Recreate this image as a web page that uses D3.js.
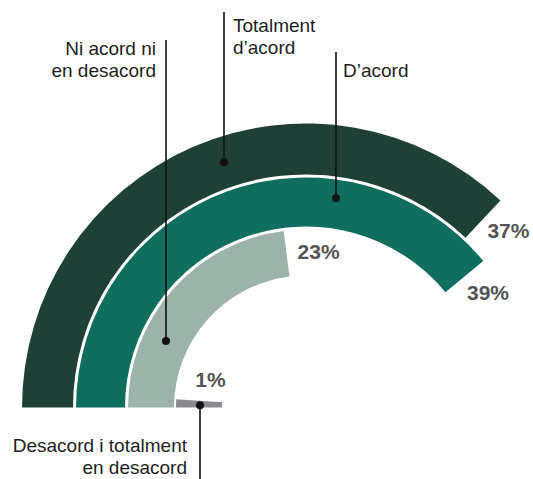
<!DOCTYPE html>
<html>
<head>
<meta charset="utf-8">
<script src="https://cdn.jsdelivr.net/npm/d3@7"></script>
<style>
  html, body { margin: 0; padding: 0; background: #fff; }
  svg { display: block; }
  text { font-family: "Liberation Sans", Arial, Helvetica, sans-serif; }
</style>
</head>
<body>
<div id="chart"></div>
<script>
// ---- data ----
const categories = ["Totalment d’acord", "D’acord", "Ni acord ni en desacord", "Desacord i totalment en desacord"];
const values = [37, 39, 23, 1];
const valueLabels = ["37%", "39%", "23%", "1%"];
const labelLines = [["Totalment", "d’acord"], ["D’acord"], ["Ni acord ni", "en desacord"], ["Desacord i totalment", "en desacord"]];
const colors = ["#1e4036", "#0f6e5e", "#9cb3aa", "#8a8a90"];

// ---- layout ----
const W = 533, H = 479;
const cx = 306, cy = 407.5;
const rings = [[233, 284], [181, 230], [132, 178], [84, 130]];

const svg = d3.select("#chart").append("svg").attr("width", W).attr("height", H);
const g = svg.append("g").attr("transform", `translate(${cx},${cy})`);

const angle = d3.scaleLinear().domain([0, 100]).range([-Math.PI / 2, 1.5 * Math.PI]);
const arc = d3.arc();

const data = categories.map((c, i) => ({
  cat: c, v: values[i], lab: valueLabels[i], lines: labelLines[i],
  color: colors[i], r0: rings[i][0], r1: rings[i][1]
}));

g.selectAll("path.bar").data(data).join("path")
  .attr("class", "bar")
  .attr("fill", d => d.color)
  .attr("d", d => arc({innerRadius: d.r0, outerRadius: d.r1, startAngle: angle(0), endAngle: angle(d.v)}));

// value labels (placed relative to bar end)
const valOffsets = [[25.5, 19], [23.7, 23.5], [32, 5.3], [11.3, -13.8]];
g.selectAll("text.val").data(data).join("text")
  .attr("class", "val")
  .attr("text-anchor", "middle")
  .attr("font-size", 21)
  .attr("font-weight", "bold")
  .attr("fill", "#545454")
  .attr("x", (d, i) => { const a = angle(d.v) - Math.PI / 2; return (d.r0 + d.r1) / 2 * Math.cos(a) + valOffsets[i][0]; })
  .attr("y", (d, i) => { const a = angle(d.v) - Math.PI / 2; return (d.r0 + d.r1) / 2 * Math.sin(a) + valOffsets[i][1]; })
  .text(d => d.lab);

// leader lines & category labels (absolute page coordinates)
const leaders = [
  {lineX: 224, lineEnd: 12, rAdj: 0, textX: 233, textY: 32, anchor: "start"},
  {lineX: 336, lineEnd: 52, rAdj: 6, textX: 343, textY: 77, anchor: "start"},
  {lineX: 166, lineEnd: 40, rAdj: 0, textX: 156, textY: 55, anchor: "end"},
  {lineX: 200, lineEnd: 485, rAdj: 0, textX: 187, textY: 452, anchor: "end"}
];

const lg = svg.append("g");
data.forEach((d, i) => {
  const L = leaders[i];
  const rm = (d.r0 + d.r1) / 2 + L.rAdj;
  const dx = L.lineX - cx;
  let dotY;
  if (i === 3) {
    // thin bar: dot sits on the bar near its base
    const a = angle(d.v / 2) - Math.PI / 2;
    dotY = cy + rm * Math.sin(a) + 1;
  } else {
    dotY = cy - Math.sqrt(rm * rm - dx * dx);
  }
  lg.append("line")
    .attr("x1", L.lineX).attr("x2", L.lineX)
    .attr("y1", L.lineEnd).attr("y2", dotY)
    .attr("stroke", "#111").attr("stroke-width", 1.6);
  lg.append("circle").attr("cx", L.lineX).attr("cy", dotY).attr("r", 4).attr("fill", "#111");
  const t = lg.append("text")
    .attr("x", L.textX).attr("y", L.textY)
    .attr("text-anchor", L.anchor)
    .attr("font-size", 19)
    .attr("fill", "#1e1e1e");
  d.lines.forEach((ln, k) => {
    t.append("tspan").attr("x", L.textX).attr("y", L.textY + k * 21.5).text(ln);
  });
});
</script>
</body>
</html>
